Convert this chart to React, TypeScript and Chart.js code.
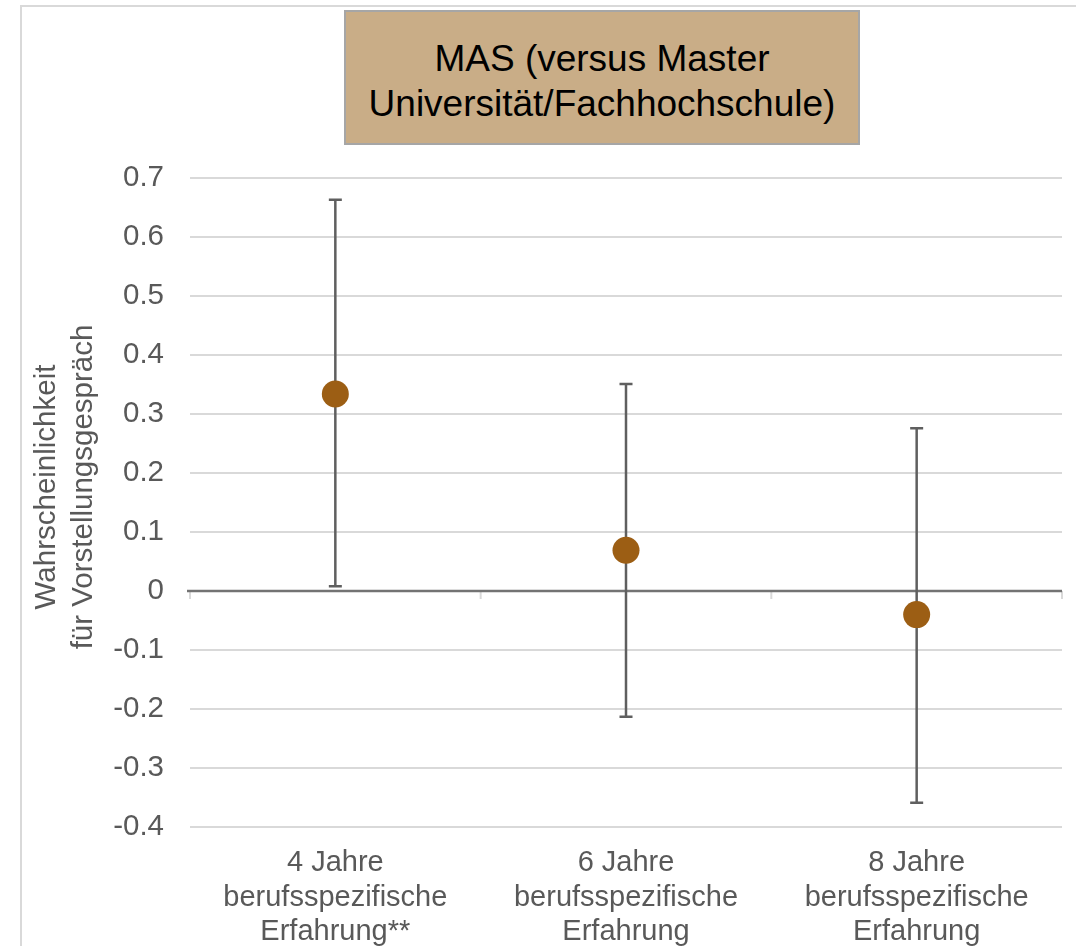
import React, { useEffect, useRef } from "react";
import { Chart, registerables } from "chart.js";

Chart.register(...registerables);

const categories: string[][] = [
  ["4 Jahre", "berufsspezifische", "Erfahrung**"],
  ["6 Jahre", "berufsspezifische", "Erfahrung"],
  ["8 Jahre", "berufsspezifische", "Erfahrung"],
];
const estimates = [0.334, 0.069, -0.04];
const lowerBounds = [0.008, -0.213, -0.359];
const upperBounds = [0.663, 0.351, 0.276];
const yMin = -0.4;
const yMax = 0.7;
const yStep = 0.1;
const titleLines = ["MAS (versus Master", "Universität/Fachhochschule)"];
const yTitleLines = ["Wahrscheinlichkeit", "für Vorstellungsgespräch"];

const FONT = "'Liberation Sans', Arial, sans-serif";
const TEXT_GRAY = "#595959";
const POINT_COLOR = "#9c5e14";

const decorPlugin = {
  id: "decor",
  beforeDraw(chart: any) {
    const { ctx, width, height } = chart;
    ctx.save();
    ctx.fillStyle = "#ffffff";
    ctx.fillRect(0, 0, width, height);
    ctx.strokeStyle = "#d9d9d9";
    ctx.lineWidth = 2;
    ctx.beginPath();
    ctx.moveTo(21, height);
    ctx.lineTo(21, 6);
    ctx.lineTo(width, 6);
    ctx.stroke();
    ctx.restore();
  },
  beforeDatasetsDraw(chart: any) {
    const { ctx, chartArea, scales } = chart;
    const x = scales.x;
    const y = scales.y;
    const y0 = y.getPixelForValue(0);
    ctx.save();
    ctx.strokeStyle = "#d9d9d9";
    ctx.lineWidth = 2;
    for (let i = 0; i <= categories.length; i++) {
      const px = x.getPixelForValue(i - 0.5);
      ctx.beginPath();
      ctx.moveTo(px, y0);
      ctx.lineTo(px, y0 + 8);
      ctx.stroke();
    }
    ctx.strokeStyle = "#737373";
    ctx.lineWidth = 2.5;
    ctx.beginPath();
    ctx.moveTo(chartArea.left - 3, y0);
    ctx.lineTo(chartArea.right, y0);
    ctx.stroke();
    ctx.strokeStyle = "#5f5f5f";
    ctx.lineWidth = 2.5;
    const cap = 6.5;
    for (let i = 0; i < estimates.length; i++) {
      const px = x.getPixelForValue(i);
      const top = y.getPixelForValue(upperBounds[i]);
      const bot = y.getPixelForValue(lowerBounds[i]);
      ctx.beginPath();
      ctx.moveTo(px, top);
      ctx.lineTo(px, bot);
      ctx.moveTo(px - cap, top);
      ctx.lineTo(px + cap, top);
      ctx.moveTo(px - cap, bot);
      ctx.lineTo(px + cap, bot);
      ctx.stroke();
    }
    ctx.restore();
  },
  afterDraw(chart: any) {
    const { ctx } = chart;
    ctx.save();
    ctx.fillStyle = TEXT_GRAY;
    ctx.font = `29.5px ${FONT}`;
    ctx.textAlign = "center";
    ctx.textBaseline = "alphabetic";
    const cy = 487;
    const baselines = [55, 92];
    yTitleLines.forEach((line, i) => {
      ctx.save();
      ctx.translate(baselines[i], cy);
      ctx.rotate(-Math.PI / 2);
      ctx.fillText(line, 0, 0);
      ctx.restore();
    });
    ctx.restore();
  },
};

export default function App() {
  const canvasRef = useRef<HTMLCanvasElement | null>(null);

  useEffect(() => {
    document.body.style.margin = "0";
    const canvas = canvasRef.current;
    if (!canvas) return;
    const chart = new Chart(canvas, {
      type: "line",
      data: {
        labels: categories,
        datasets: [
          {
            data: estimates,
            showLine: false,
            pointRadius: 13.5,
            pointHoverRadius: 13.5,
            pointBackgroundColor: POINT_COLOR,
            pointBorderColor: POINT_COLOR,
            pointBorderWidth: 0,
          },
        ],
      },
      options: {
        animation: false,
        responsive: false,
        maintainAspectRatio: false,
        layout: { padding: { left: 0, right: 14, top: 178, bottom: 0 } },
        plugins: {
          legend: { display: false },
          title: { display: false },
          tooltip: { enabled: false },
        },
        scales: {
          x: {
            type: "category",
            offset: true,
            grid: { display: false, drawTicks: false },
            border: { display: false },
            ticks: {
              color: TEXT_GRAY,
              font: { family: FONT, size: 29, lineHeight: 1.19 },
              padding: 19,
              maxRotation: 0,
              autoSkip: false,
            },
            afterFit(scale: any) {
              scale.height = 119;
            },
          },
          y: {
            min: yMin,
            max: yMax,
            grid: {
              color: "#d9d9d9",
              lineWidth: 2,
              drawTicks: false,
            },
            border: { display: false },
            ticks: {
              stepSize: yStep,
              color: TEXT_GRAY,
              font: { family: FONT, size: 29.5 },
              padding: 26,
              callback: (v: any) => String(Number(Number(v).toFixed(1))),
            },
            afterFit(scale: any) {
              scale.width = 190;
            },
          },
        },
      },
      plugins: [decorPlugin],
    });
    return () => chart.destroy();
  }, []);

  return (
    <div style={{ position: "relative", width: 1076, height: 946, overflow: "hidden" }}>
      <canvas ref={canvasRef} width={1076} height={946} style={{ position: "absolute", left: 0, top: 0 }} />
      <div
        style={{
          position: "absolute",
          left: 344,
          top: 10,
          width: 512,
          height: 131,
          background: "#c9ad87",
          border: "2px solid #a6a6a6",
          fontFamily: FONT,
          fontSize: 37,
          lineHeight: "45px",
          color: "#000000",
          textAlign: "center",
          boxSizing: "content-box",
        }}
      >
        <div style={{ paddingTop: 24 }}>
          {titleLines.map((l, i) => (
            <div key={i}>{l}</div>
          ))}
        </div>
      </div>
    </div>
  );
}
